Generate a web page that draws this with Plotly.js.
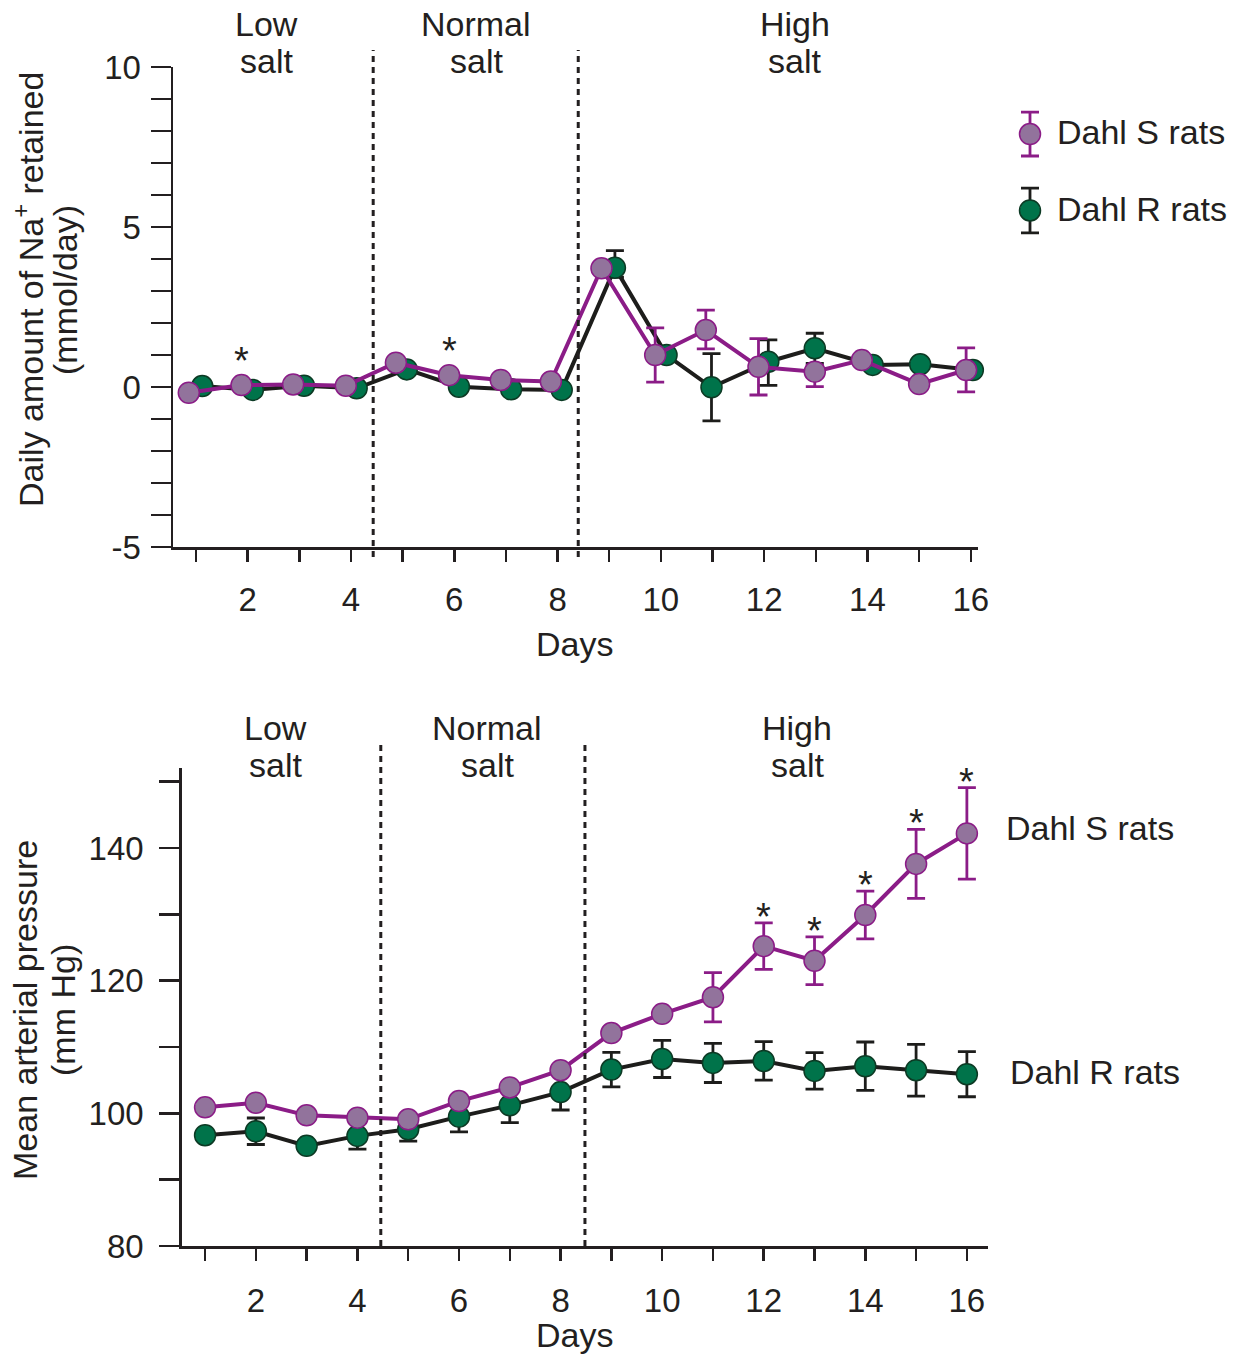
<!DOCTYPE html>
<html>
<head>
<meta charset="utf-8">
<script src="https://cdn.plot.ly/plotly-3.0.1.min.js"></script>
<style>html,body{margin:0;padding:0;background:#fff;}#chart{width:1245px;height:1355px;}</style>
</head>
<body>
<div id="chart"></div>
<script>
// ---------- DATA ----------
var days = [1,2,3,4,5,6,7,8,9,10,11,12,13,14,15,16];
var xTickLabels = ['', '2', '', '4', '', '6', '', '8', '', '10', '', '12', '', '14', '', '16'];

// Top panel: daily Na+ retained (mmol/day); points drawn slightly offset per series
var xTopS = [0.86,1.88,2.88,3.90,4.87,5.90,6.90,7.87,8.85,9.89,10.87,11.89,12.98,13.89,15.00,15.91];
var xTopR = [1.12,2.10,3.09,4.11,5.08,6.09,7.10,8.08,9.11,10.11,10.98,12.08,12.98,14.10,15.02,16.04];
var naS = [-0.18,0.06,0.08,0.04,0.76,0.37,0.22,0.17,3.71,1.00,1.78,0.63,0.48,0.84,0.09,0.53];
var naSErrPlus  = [0,0,0,0,0,0,0,0,0,0.85,0.62,0.88,0.20,0,0,0.69];
var naSErrMinus = [0,0,0,0,0,0,0,0,0,0.85,0.59,0.88,0.47,0,0,0.68];
var naR = [0.03,-0.09,0.04,-0.04,0.55,0.01,-0.07,-0.09,3.73,1.00,-0.01,0.79,1.21,0.69,0.71,0.53];
var naRErrPlus  = [0,0,0,0,0,0,0,0,0.53,0,1.05,0.68,0.47,0,0,0];
var naRErrMinus = [0,0,0,0,0,0,0,0,0.30,0,1.05,0.74,0.47,0,0,0];
var naYTickVals = [-5,-4,-3,-2,-1,0,1,2,3,4,5,6,7,8,9,10];
var naYTickText = ['-5','','','','','0','','','','','5','','','','','10'];
var starTopIdx = [1,5];   // days 2 and 6

// Bottom panel: mean arterial pressure (mm Hg)
var mapS = [100.9,101.6,99.7,99.35,99.1,101.85,103.9,106.5,112.1,115.0,117.5,125.2,123.0,129.9,137.6,142.2];
var mapSErr = [0,0,0,0,0,0,0,0,0,0,3.7,3.5,3.6,3.6,5.2,6.9];
var mapR = [96.7,97.3,95.1,96.6,97.6,99.5,101.2,103.2,106.6,108.2,107.6,107.9,106.4,107.1,106.5,105.9];
var mapRErr = [0,2.0,0,2.0,1.8,2.3,2.6,2.7,2.6,2.8,2.95,2.9,2.75,3.65,3.9,3.4];
var mapYTickVals = [80,90,100,110,120,130,140,150];
var mapYTickText = ['80','','100','','120','','140',''];
var starBottomIdx = [11,12,13,14,15];  // days 12-16

var phaseTop = [4.43, 8.40];
var phaseBottom = [4.46, 8.48];
var phaseNames = [['Low','salt'],['Normal','salt'],['High','salt']];
var seriesNames = ['Dahl S rats','Dahl R rats'];

// ---------- STYLE ----------
var W = 1245, H = 1355;
var FONT = '"Liberation Sans", Arial, Helvetica, sans-serif';
var TXT = '#231f20';
var PURPLE = '#8b1c87', PURPLE_FILL = '#92739c';
var GREEN = '#00734a', GREEN_EDGE = '#0c3a24', BLACK = '#1d1d1b';
function px(x){ return x / W; }
function py(y){ return 1 - y / H; }

function axisBase(){
  return {showline:true, linecolor:TXT, linewidth:2.5, ticks:'outside', tickcolor:TXT,
    tickwidth:2.5, showgrid:false, zeroline:false, fixedrange:true,
    tickfont:{family:FONT, size:33, color:TXT}};
}

function seriesTrace(x, y, ep, em, isS, xa, ya){
  return {
    x:x, y:y, xaxis:xa, yaxis:ya, mode:'lines+markers', type:'scatter', showlegend:false,
    line:{color: isS ? PURPLE : BLACK, width:4},
    marker:{size:21, color: isS ? PURPLE_FILL : GREEN, line:{color: isS ? PURPLE : GREEN_EDGE, width:1.5}},
    error_y:{type:'data', symmetric:false, array:ep, arrayminus:em, color: isS ? PURPLE : BLACK, thickness:2.8, width:9},
    cliponaxis:false
  };
}

var traces = [
  seriesTrace(xTopR, naR, naRErrPlus, naRErrMinus, false, 'x', 'y'),
  seriesTrace(xTopS, naS, naSErrPlus, naSErrMinus, true, 'x', 'y'),
  seriesTrace(days, mapR, mapRErr, mapRErr, false, 'x2', 'y2'),
  seriesTrace(days, mapS, mapSErr, mapSErr, true, 'x2', 'y2')
];
// legend icons (marker with error bar) on a hidden helper axis
traces.push({x:[0.5], y:[0.757], xaxis:'x3', yaxis:'y3', mode:'markers', type:'scatter', showlegend:false,
  marker:{size:21, color:PURPLE_FILL, line:{color:PURPLE, width:1.5}},
  error_y:{type:'data', array:[0.157], color:PURPLE, thickness:2.8, width:9}});
traces.push({x:[0.5], y:[0.211], xaxis:'x3', yaxis:'y3', mode:'markers', type:'scatter', showlegend:false,
  marker:{size:21, color:GREEN, line:{color:GREEN_EDGE, width:1.5}},
  error_y:{type:'data', array:[0.16], color:BLACK, thickness:2.8, width:9}});

var xTop = Object.assign(axisBase(), {domain:[px(173), px(978)], range:[0.554, 16.14], anchor:'y',
  tickvals:days, ticktext:xTickLabels, ticklen:12, ticklabelstandoff:10});
var yTop = Object.assign(axisBase(), {domain:[py(547), py(67)], range:[-5, 10], anchor:'x',
  tickvals:naYTickVals, ticktext:naYTickText, ticklen:20, ticklabelstandoff:3});
var xBot = Object.assign(axisBase(), {domain:[px(181.7), px(987.7)], range:[0.54, 16.41], anchor:'y2',
  tickvals:days, ticktext:xTickLabels, ticklen:12, ticklabelstandoff:12});
var yBot = Object.assign(axisBase(), {domain:[py(1246), py(768)], range:[80, 152.06], anchor:'x2',
  tickvals:mapYTickVals, ticktext:mapYTickText, ticklen:20, ticklabelstandoff:9});

var ann = [];
function txt(text, x, y, size, opts){
  var a = {text:text, x:px(x), y:py(y), xref:'paper', yref:'paper', showarrow:false,
    xanchor:'center', yanchor:'middle', font:{family:FONT, size:size, color:TXT}};
  return Object.assign(a, opts || {});
}
// phase labels
var phaseXTop = [266, 476, 795], phaseXBot = [275, 487, 797];
phaseNames.forEach(function(p, i){
  ann.push(txt(p[0], phaseXTop[i], 24, 34));
  ann.push(txt(p[1], phaseXTop[i], 61, 34));
  ann.push(txt(p[0], phaseXBot[i], 728, 34));
  ann.push(txt(p[1], phaseXBot[i], 765, 34));
});
// axis titles
ann.push(txt('Daily amount of Na<sup>+</sup> retained', 28, 290, 34, {textangle:-90}));
ann.push(txt('(mmol/day)', 65, 290, 34, {textangle:-90}));
ann.push(txt('Mean arterial pressure', 25, 1010, 34, {textangle:-90}));
ann.push(txt('(mm Hg)', 63, 1010, 34, {textangle:-90}));
ann.push(txt('Days', 574, 644, 34));
ann.push(txt('Days', 574, 1335, 34));
// legend text (top) and series labels (bottom)
ann.push(txt(seriesNames[0], 1055, 132, 34, {xanchor:'left'}));
ann.push(txt(seriesNames[1], 1055, 209, 34, {xanchor:'left'}));
ann.push(txt(seriesNames[0], 1090, 828, 34));
ann.push(txt(seriesNames[1], 1095, 1072, 34));
// significance stars
starTopIdx.forEach(function(i){
  ann.push({text:'*', x:xTopS[i], y:naS[i], xref:'x', yref:'y', showarrow:false, xanchor:'center', yanchor:'middle',
    yshift:24, font:{family:FONT, size:38, color:TXT}});
});
starBottomIdx.forEach(function(i){
  ann.push({text:'*', x:days[i], y:mapS[i] + mapSErr[i], xref:'x2', yref:'y2', showarrow:false, xanchor:'center', yanchor:'middle',
    yshift:6, font:{family:FONT, size:38, color:TXT}});
});

var shapes = [];
phaseTop.forEach(function(v){
  shapes.push({type:'line', xref:'x', yref:'paper', x0:v, x1:v, y0:py(557), y1:py(50),
    line:{color:TXT, width:3, dash:'6px,5px'}});
});
phaseBottom.forEach(function(v){
  shapes.push({type:'line', xref:'x2', yref:'paper', x0:v, x1:v, y0:py(1246), y1:py(742),
    line:{color:TXT, width:3, dash:'6px,5px'}});
});

var layout = {
  width:W, height:H, margin:{l:0, r:0, t:0, b:0}, paper_bgcolor:'#fff', plot_bgcolor:'rgba(0,0,0,0)',
  showlegend:false, font:{family:FONT, color:TXT},
  xaxis:xTop, yaxis:yTop, xaxis2:xBot, yaxis2:yBot,
  xaxis3:{domain:[px(1000), px(1060)], range:[0,1], visible:false, fixedrange:true, anchor:'y3'},
  yaxis3:{domain:[py(240), py(100)], range:[0,1], visible:false, fixedrange:true, anchor:'x3'},
  annotations:ann, shapes:shapes
};
Plotly.newPlot('chart', traces, layout, {displayModeBar:false, staticPlot:true});
</script>
</body>
</html>
